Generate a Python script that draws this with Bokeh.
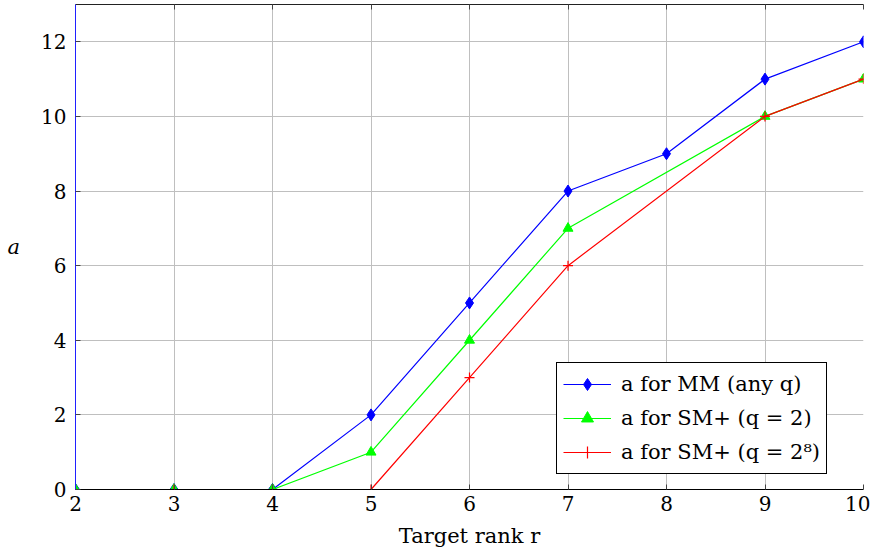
from bokeh.plotting import figure
from bokeh.models import Range1d, LinearAxis, FixedTicker, Legend, LegendItem
from bokeh.embed import file_html
from bokeh.resources import INLINE

# ---- data ----
rank = [2, 3, 4, 5, 6, 7, 8, 9, 10]
a_mm = [0, 0, 0, 2, 5, 8, 9, 11, 12]
rank_sm = [2, 3, 4, 5, 6, 7, 9, 10]
a_sm_q2 = [0, 0, 0, 1, 4, 7, 10, 11]
a_sm_q256 = [0, 0, 0, 0, 3, 6, 10, 11]
x_ticks = [2, 3, 4, 5, 6, 7, 8, 9, 10]
y_ticks = [0, 2, 4, 6, 8, 10, 12]
labels = ["a for MM (any q)", "a for SM+ (q = 2)", "a for SM+ (q = 2\u2078)"]

FONT = "DejaVu Serif"

p = figure(width=870, height=550, output_backend="svg", toolbar_location=None,
           x_range=Range1d(2, 10), y_range=Range1d(0, 13),
           min_border_left=75, min_border_right=7, min_border_top=4, min_border_bottom=61,
           x_axis_location="below", y_axis_location="left")
p.outline_line_color = None
p.background_fill_color = "white"
p.border_fill_color = "white"

p.xgrid.ticker = FixedTicker(ticks=x_ticks)
p.ygrid.ticker = FixedTicker(ticks=y_ticks)
for g in (p.xgrid, p.ygrid):
    g.grid_line_color = "#bfbfbf"
    g.grid_line_width = 1

# main axes
xa = p.xaxis[0]
ya = p.yaxis[0]
xa.ticker = FixedTicker(ticks=x_ticks)
ya.ticker = FixedTicker(ticks=y_ticks)
for ax in (xa, ya):
    ax.major_tick_in = 5
    ax.major_tick_out = 0
    ax.minor_tick_line_color = None
    ax.major_label_text_font = FONT
    ax.major_label_text_font_size = "20px"
    ax.major_label_text_color = "black"
    ax.axis_label_text_font = FONT
    ax.axis_label_text_font_size = "21px"
    ax.axis_label_text_font_style = "normal"
    ax.axis_label_text_color = "black"
    ax.major_tick_line_color = "#444444"
xa.axis_line_color = "black"
ya.axis_line_color = "#2020ff"
xa.major_label_standoff = 6
ya.major_label_standoff = 9
xa.axis_label = "Target rank r"
xa.axis_label_standoff = 10
ya.axis_label = "a"
ya.axis_label_text_font_style = "italic"
ya.axis_label_orientation = "horizontal"
ya.axis_label_standoff = 18

# top axis (ticks only)
top = LinearAxis(ticker=FixedTicker(ticks=x_ticks), major_tick_in=5, major_tick_out=0,
                 minor_tick_line_color=None, major_label_text_font_size="0px",
                 major_label_text_color=None, axis_line_color="#222222",
                 major_tick_line_color="#444444", major_label_standoff=0)
p.add_layout(top, "above")

# series
l1 = p.line(rank, a_mm, line_color="#0000ff", line_width=1.2)
m1 = p.scatter(rank, a_mm, marker="diamond", size=12, fill_color="#0000ff", line_color="#0000ff")
l2 = p.line(rank_sm, a_sm_q2, line_color="#00ff00", line_width=1.2)
m2 = p.scatter(rank_sm, a_sm_q2, marker="triangle", size=10, fill_color="#00ff00", line_color="#00ff00")
l3 = p.line(rank_sm, a_sm_q256, line_color="#ff0000", line_width=1.2)
m3 = p.scatter(rank_sm, a_sm_q256, marker="cross", size=10, line_color="#ff0000", line_width=1.2)

legend = Legend(items=[
    LegendItem(label=labels[0], renderers=[l1, m1]),
    LegendItem(label=labels[1], renderers=[l2, m2]),
    LegendItem(label=labels[2], renderers=[l3, m3]),
], location=(481, 15))
legend.label_text_font = FONT
legend.label_text_font_size = "21px"
legend.label_text_color = "black"
legend.label_height = 30
legend.glyph_height = 30
legend.glyph_width = 48
legend.label_standoff = 10
legend.spacing = 4
legend.padding = 6
legend.margin = 0
legend.border_line_color = "black"
legend.border_line_width = 1
legend.border_line_alpha = 1
legend.background_fill_alpha = 1
p.add_layout(legend, "center")

open("out.html", "w").write(file_html(p, INLINE))
